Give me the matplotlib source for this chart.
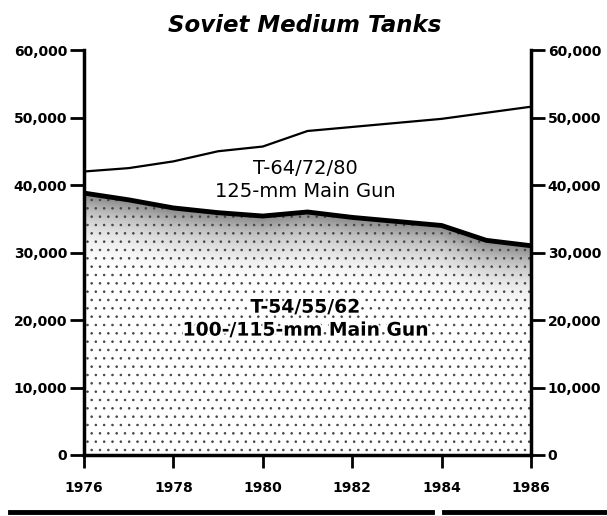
import numpy as np
import matplotlib.pyplot as plt
import matplotlib.patheffects as pe
from matplotlib.lines import Line2D
from matplotlib.ticker import StrMethodFormatter

years = [1976, 1977, 1978, 1979, 1980, 1981, 1982, 1983, 1984, 1985, 1986]
# T-54/55/62 (100/115-mm gun)
older = [38800, 37800, 36600, 35900, 35400, 36000, 35200, 34600, 34000, 31800, 31000]
# T-64/72/80 (125-mm gun), stacked on top
newer = [3200, 4700, 6900, 9100, 10300, 12000, 13400, 14600, 15800, 18900, 20600]
yticks = [0, 10000, 20000, 30000, 40000, 50000, 60000]
xticks = [1976, 1978, 1980, 1982, 1984, 1986]

plt.rcParams['hatch.linewidth'] = 0.6

fig = plt.figure(figsize=(6.07, 5.16), dpi=100)
ax = fig.add_axes([84/607, 61/516, 447/607, 405/516])

older_arr = np.array(older)
total = older_arr + np.array(newer)

# stippled band: dots everywhere, shading that darkens toward the top edge
band = ax.fill_between(years, 0, older, facecolor='none', edgecolor='#444444',
                       hatch='..', linewidth=0, zorder=2)
xs = np.linspace(1976, 1986, 300)
ys = np.linspace(0, 40000, 400)
depth = np.interp(xs, years, older)[None, :] - ys[:, None]
shade = 0.55 * np.clip(1 - depth / 11000, 0, 1) ** 1.5
im = ax.imshow(shade, extent=[1976, 1986, 0, 40000], origin='lower',
               cmap='Greys', vmin=0, vmax=1, aspect='auto', zorder=1,
               interpolation='bilinear')
im.set_clip_path(band.get_paths()[0], ax.transData)

ax.plot(years, older, color='black', lw=3.5, solid_capstyle='butt', zorder=3)
ax.plot(years, total, color='black', lw=1.6, zorder=3)

ax.set_xlim(1976, 1986)
ax.set_ylim(0, 60000)
ax.set_xticks(xticks)
ax.set_yticks(yticks)
ax.yaxis.set_major_formatter(StrMethodFormatter('{x:,.0f}'))

for side in ['left', 'right', 'bottom']:
    ax.spines[side].set_linewidth(2.5)
ax.spines['top'].set_visible(False)

ax.tick_params(axis='y', direction='out', length=10, width=2, pad=2,
               left=True, right=True, labelleft=True, labelright=True)
ax.tick_params(axis='x', direction='out', length=9, width=2, pad=10)
for t in ax.yaxis.get_major_ticks() + ax.xaxis.get_major_ticks():
    for lab in (t.label1, t.label2):
        lab.set_fontweight('bold')
        lab.set_fontsize(10)

ax.text(1980.95, 42500, 'T-64/72/80', ha='center', va='center', fontsize=14)
ax.text(1980.95, 39100, '125-mm Main Gun', ha='center', va='center', fontsize=14)
halo = [pe.withStroke(linewidth=3, foreground='white')]
ax.text(1980.95, 21900, 'T-54/55/62', ha='center', va='center', zorder=4,
        fontsize=13.5, fontweight='bold', path_effects=halo)
ax.text(1980.95, 18500, '100-/115-mm Main Gun', ha='center', va='center',
        zorder=4, fontsize=13.5, fontweight='bold', path_effects=halo)

fig.text(305/607, 1 - 26/516, 'Soviet Medium Tanks', ha='center', va='center',
         fontsize=16.5, fontweight='bold', fontstyle='italic')

# page rules under the chart
fig.add_artist(Line2D([10/607, 432/607], [4/516, 4/516], color='black', lw=3.5))
fig.add_artist(Line2D([444/607, 1.0], [4/516, 4/516], color='black', lw=3.5))

fig.savefig('out.png', dpi=100)
